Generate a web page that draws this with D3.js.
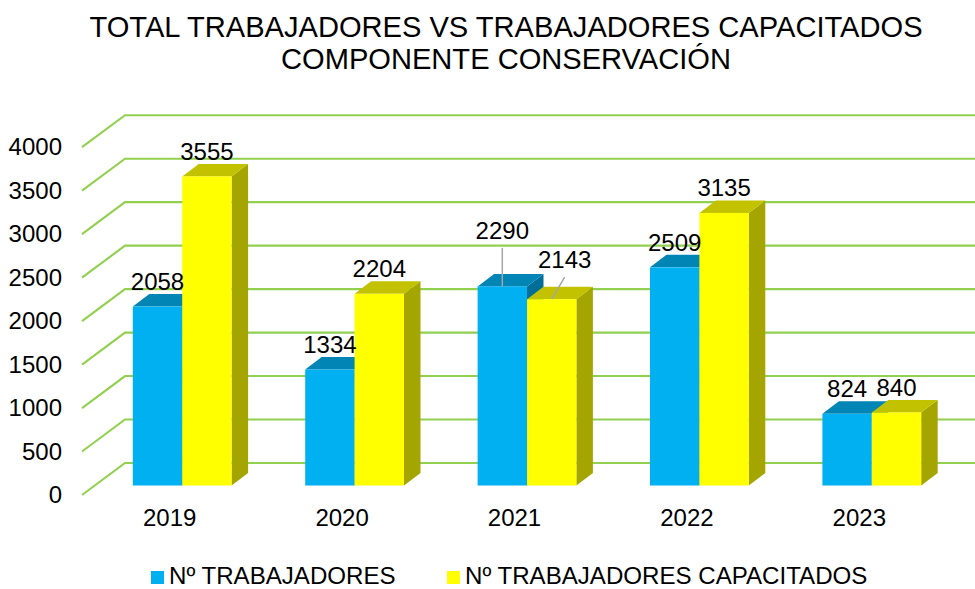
<!DOCTYPE html>
<html><head><meta charset="utf-8">
<script src="https://cdn.jsdelivr.net/npm/d3@7"></script>
<style>html,body{margin:0;padding:0;background:#fff;overflow:hidden}svg{display:block}text{font-family:"Liberation Sans",Arial,sans-serif;fill:#000}</style>
</head><body><svg id="c" width="975" height="589"></svg>
<script>
const titleLines = ["TOTAL TRABAJADORES VS TRABAJADORES CAPACITADOS", "COMPONENTE CONSERVACIÓN"];
const years = ["2019", "2020", "2021", "2022", "2023"];
const seriesNames = ["Nº TRABAJADORES", "Nº TRABAJADORES CAPACITADOS"];
const trabajadores = [2058, 1334, 2290, 2509, 824];
const capacitados = [3555, 2204, 2143, 3135, 840];
const yTicks = [0, 500, 1000, 1500, 2000, 2500, 3000, 3500, 4000];

const colors = [
  {front:"#00B0F0", top:"#0085B5", side:"#006F97"},
  {front:"#FFFF00", top:"#C2C200", side:"#A5A500"}
];
const gridColor = "#92D050";
const depthX = 16.5, depthY = 12.5;      // bar depth
const backOffset = 22.5, leftOffset = 9.5; // wall / axis relative to bar base line

const svg = d3.select("#c");
const y = d3.scaleLinear().domain([0, 4000]).range([485.5, 137.7]);
const x0 = d3.scaleBand().domain(years).range([96, 958]).paddingInner(0.427).paddingOuter(0.2135);
const x1 = d3.scaleBand().domain([0, 1]).range([0, x0.bandwidth()]);

// title
svg.append("g").selectAll("text").data(titleLines).join("text")
  .attr("x", 506).attr("y", (d, i) => 37 + i * 32)
  .attr("text-anchor", "middle").style("font-size", "29.1px").text(d => d);

// gridlines: short diagonal on the side wall, then along the back wall
svg.append("g").selectAll("path").data(yTicks).join("path")
  .attr("fill", "none").attr("stroke", gridColor).attr("stroke-width", 2.1)
  .attr("d", d => `M82,${y(d) + leftOffset}L125,${y(d) - backOffset}H975`);

// y axis
const yAxis = svg.append("g").attr("transform", `translate(70,${leftOffset})`)
  .call(d3.axisLeft(y).tickValues(yTicks).tickFormat(d3.format("d")).tickSize(0).tickPadding(8));
yAxis.select(".domain").remove();
yAxis.selectAll("text").style("font-size", "24px").attr("fill", null);

// x axis
const xAxis = svg.append("g").attr("transform", "translate(-12.5,509)")
  .call(d3.axisBottom(x0).tickSize(0).tickPadding(0));
xAxis.select(".domain").remove();
xAxis.selectAll("text").style("font-size", "24px").attr("fill", null).attr("dy", "0.71em");

// 3D bars
const rows = years.map((yr, i) => ({yr, vals: [trabajadores[i], capacitados[i]]}));
const groups = svg.append("g").selectAll("g").data(rows).join("g")
  .attr("transform", d => `translate(${x0(d.yr)},0)`);
const bars = groups.selectAll("g").data(d => d.vals.map((v, s) => ({v, s, yr: d.yr}))).join("g");
const bw = x1.bandwidth();
bars.append("path").attr("fill", d => colors[d.s].side)
  .attr("d", d => { const l = x1(d.s) + bw, t = y(d.v), b = y(0);
    return `M${l},${t}l${depthX},${-depthY}V${b - depthY}L${l},${b}Z`; });
bars.append("path").attr("fill", d => colors[d.s].top)
  .attr("d", d => { const l = x1(d.s), t = y(d.v);
    return `M${l},${t}l${depthX},${-depthY}h${bw}l${-depthX},${depthY}Z`; });
bars.append("rect").attr("fill", d => colors[d.s].front)
  .attr("x", d => x1(d.s)).attr("width", bw)
  .attr("y", d => y(d.v)).attr("height", d => y(0) - y(d.v));

// data labels (2021 labels are pulled away from the bars with leader lines)
const labelShift = {"2021-0": {dx: 0, dy: -47.5, lead: true}, "2021-1": {dx: 13, dy: -31, lead: true}};
const labels = rows.flatMap(r => r.vals.map((v, s) => ({v, s, yr: r.yr})));
const lg = svg.append("g");
labels.forEach(d => {
  const cx = x0(d.yr) + x1(d.s) + bw / 2, top = y(d.v);
  const sh = labelShift[d.yr + "-" + d.s] || {dx: 0, dy: -16.5};
  const lx = cx + sh.dx, ly = top + sh.dy;
  if (sh.lead) {
    lg.append("line").attr("stroke", "#A6A6A6").attr("stroke-width", 1.5)
      .attr("x1", lx).attr("y1", ly + 9).attr("x2", d.s === 0 ? lx : lx - 13).attr("y2", top);
  }
  lg.append("text").attr("x", lx).attr("y", ly).attr("text-anchor", "middle")
    .style("font-size", "24px").text(d.v);
});

// legend
const legendX = [151, 447];
const legend = svg.append("g").selectAll("g").data(seriesNames).join("g")
  .attr("transform", (d, i) => `translate(${legendX[i]},571)`);
legend.append("rect").attr("width", 13).attr("height", 13).attr("fill", (d, i) => colors[i].front);
legend.append("text").attr("x", 18).attr("y", 12.5).style("font-size", "24.1px").text(d => d);
</script></body></html>
